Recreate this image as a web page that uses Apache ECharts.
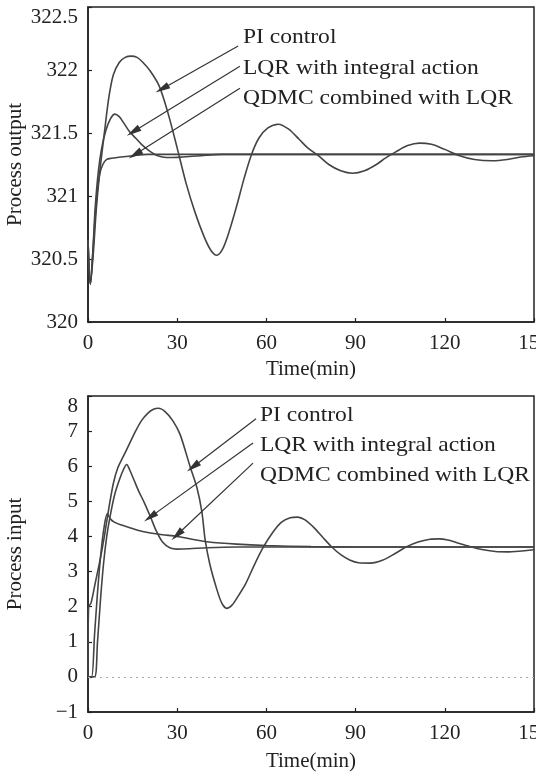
<!DOCTYPE html>
<html>
<head>
<meta charset="utf-8">
<script src="https://cdn.jsdelivr.net/npm/echarts@6/dist/echarts.min.js"></script>
<style>
html,body{margin:0;padding:0;background:#fff;}
#chart{width:536px;height:773px;}
</style>
</head>
<body>
<div id="chart"></div>
<script>
// ---- data ----
const seriesNames = ['PI control', 'LQR with integral action', 'QDMC combined with LQR'];
const timeTicks = [0, 30, 60, 90, 120, 150];
const outputTicks = [320, 320.5, 321, 321.5, 322, 322.5];
const inputTicks = [-1, 0, 1, 2, 3, 4, 5, 6, 7, 8];

const piOutput = [[0,320.65],[0.8,320.3],[1.8,320.55],[2.8,320.9],[4,321.2],[5.5,321.5],[7,321.78],[8.5,321.96],[10.5,322.06],[12.5,322.1],[14.5,322.11],[16.5,322.1],[18.5,322.06],[21,321.99],[24,321.87],[27,321.65],[30,321.38],[33,321.1],[36,320.87],[39,320.68],[41.3,320.57],[43.3,320.53],[45.3,320.58],[47.5,320.72],[50,320.92],[52.5,321.14],[55,321.33],[57.5,321.46],[60.5,321.54],[64,321.57],[67.5,321.53],[71,321.45],[74,321.38],[77.5,321.32],[81,321.25],[85,321.2],[89,321.18],[93,321.2],[97,321.25],[100,321.3],[103.5,321.35],[107.5,321.4],[111.5,321.42],[115.5,321.41],[120,321.37],[125,321.32],[130,321.29],[136,321.28],[141,321.29],[145.5,321.31],[150,321.32]];
const lqrOutput = [[0,320.65],[0.8,320.3],[1.6,320.55],[2.4,320.9],[3.5,321.2],[4.6,321.38],[6,321.52],[7.5,321.61],[9,321.65],[10.5,321.63],[12,321.58],[14,321.51],[16,321.46],[18,321.41],[20,321.37],[22.5,321.33],[25,321.31],[28,321.305],[32,321.31],[38,321.32],[45,321.33],[60,321.33],[80,321.33],[100,321.33],[120,321.33],[150,321.33]];
const qdmcOutput = [[0,320.65],[0.8,320.3],[1.5,320.5],[2.3,320.8],[3.2,321.05],[4,321.18],[5,321.25],[6.3,321.29],[8,321.3],[11,321.31],[15,321.32],[20,321.33],[40,321.33],[80,321.33],[120,321.33],[150,321.33]];

const piInput = [[0,0],[0.2,2.0],[1,2.1],[2.5,2.7],[4,3.3],[5.5,4.0],[7,4.8],[8.5,5.5],[10,5.95],[12,6.3],[14,6.65],[16,7.0],[18,7.3],[20,7.5],[22,7.62],[23.7,7.65],[26,7.55],[28.5,7.3],[31,6.9],[34.3,6.0],[36.6,5.4],[38.3,4.7],[39.4,3.9],[41,3.2],[43.3,2.5],[45,2.1],[46.6,1.95],[48.5,2.05],[50.5,2.3],[53,2.65],[56,3.2],[59,3.7],[62,4.1],[65,4.4],[68,4.53],[70.5,4.55],[73,4.47],[76,4.25],[79,3.97],[82,3.7],[85,3.48],[88,3.33],[91,3.25],[95,3.24],[99,3.32],[103,3.5],[107,3.7],[111,3.84],[115,3.92],[118,3.93],[121,3.9],[125,3.8],[129,3.7],[133,3.62],[137,3.57],[141,3.56],[145,3.58],[150,3.62]];
const lqrInput = [[0,0],[2.2,0],[3.2,1.0],[4.2,2.2],[5.2,3.2],[6.3,4.0],[7.5,4.6],[9,5.2],[10.5,5.6],[12,5.92],[13,6.05],[14,5.9],[15.5,5.6],[17,5.3],[19,4.95],[21,4.56],[23,4.15],[25,3.85],[27.5,3.68],[30,3.64],[34,3.65],[40,3.68],[50,3.7],[70,3.7],[100,3.7],[125,3.7],[150,3.7]];
const qdmcInput = [[0,0],[1.2,0],[2.2,1.2],[3.2,2.4],[4.2,3.4],[5.3,4.2],[6.5,4.65],[7.5,4.5],[9,4.4],[11,4.33],[14,4.25],[17,4.17],[21,4.1],[25,4.05],[30,4.0],[35,3.92],[40,3.85],[50,3.78],[60,3.74],[75,3.71],[90,3.7],[120,3.7],[150,3.7]];

// annotation arrows: [startTime, startValue, tipTime, tipValue]
const outputArrows = [[50.5,322.19,24.9,321.85],[51.1,322.03,15.2,321.51],[51.1,321.855,15.8,321.33]];
const inputArrows = [[56.5,7.35,35.3,5.98],[55.5,6.66,20.9,4.55],[55.5,6.09,29.9,4.04]];

// ---- chart ----
const FONT = 'Liberation Serif';
const INK = '#222';
const LINE = '#444';

function xAxisCfg(gi) {
  return {
    gridIndex: gi, type: 'value', min: timeTicks[0], max: timeTicks[timeTicks.length-1],
    interval: timeTicks[1]-timeTicks[0],
    name: 'Time(min)', nameLocation: 'middle', nameGap: gi === 0 ? 37 : 39,
    nameMoveOverlap: false,
    nameTextStyle: {fontFamily: FONT, fontSize: 21, color: INK},
    axisLine: {show: true, onZero: false, lineStyle: {color: INK, width: 1.5}},
    axisTick: {show: true, inside: true, length: 4, lineStyle: {color: INK, width: 1.2}},
    axisLabel: {fontFamily: FONT, fontSize: 21, color: INK, margin: 11, showMaxLabel: true, hideOverlap: false},
    splitLine: {show: false}
  };
}
function yAxisCfg(gi, ticks, name) {
  const mx = ticks[ticks.length-1];
  return {
    gridIndex: gi, type: 'value', min: ticks[0], max: mx, interval: ticks[1]-ticks[0],
    name: name, nameLocation: 'middle', nameGap: 62, nameMoveOverlap: false,
    nameTextStyle: {fontFamily: FONT, fontSize: 21, color: INK},
    axisLine: {show: true, onZero: false, lineStyle: {color: INK, width: 1.5}},
    axisTick: {show: true, inside: true, length: 4, lineStyle: {color: INK, width: 1.2}},
    axisLabel: {
      fontFamily: FONT, fontSize: 21, color: INK, margin: 10, showMaxLabel: true,
      formatter: function (v) {
        const s = String(v).replace('-', '\u2212');
        return v === mx ? '{t|' + s + '}' : s;
      },
      rich: {t: {fontFamily: FONT, fontSize: 21, color: INK, padding: [20, 0, 0, 0]}}
    },
    splitLine: {show: false}
  };
}
function arrowLines(arr) {
  return arr.map(a => [{coord: [a[0], a[1]]}, {coord: [a[2], a[3]]}]);
}
function lineSeries(name, data, xi, yi, extra) {
  return Object.assign({
    name: name, type: 'line', xAxisIndex: xi, yAxisIndex: yi, data: data,
    showSymbol: false, smooth: 0.3, clip: true,
    lineStyle: {color: LINE, width: 1.6}, animation: false
  }, extra || {});
}
const arrowMark = (arr) => ({
  silent: true, animation: false, symbol: ['none', 'triangle'], symbolSize: [7, 15],
  label: {show: false}, emphasis: {disabled: true},
  lineStyle: {type: 'solid', color: '#333', width: 1.2},
  itemStyle: {color: '#111'},
  data: arrowLines(arr)
});

function legendTexts(x, ys) {
  return seriesNames.map((s, i) => ({
    type: 'text', x: x, y: ys[i], scaleX: 1.12,
    style: {text: s, fontFamily: FONT, fontSize: 21, fill: INK, align: 'left', verticalAlign: 'middle'}
  }));
}

const chart = echarts.init(document.getElementById('chart'), null, {renderer: 'canvas'});
chart.setOption({
  backgroundColor: '#fff',
  animation: false,
  grid: [
    {left: 88, right: 2, top: 7, height: 315, show: true, borderColor: INK, borderWidth: 1.5, containLabel: false, outerBoundsMode: 'none'},
    {left: 88, right: 2, top: 396, height: 316, show: true, borderColor: INK, borderWidth: 1.5, containLabel: false, outerBoundsMode: 'none'}
  ],
  xAxis: [xAxisCfg(0), xAxisCfg(1)],
  yAxis: [yAxisCfg(0, outputTicks, 'Process output'), yAxisCfg(1, inputTicks, 'Process input')],
  graphic: legendTexts(243, [37, 68, 98]).concat(legendTexts(260, [415, 445, 475])),
  series: [
    lineSeries(seriesNames[0], piOutput, 0, 0, {markLine: arrowMark(outputArrows)}),
    lineSeries(seriesNames[1], lqrOutput, 0, 0),
    lineSeries(seriesNames[2], qdmcOutput, 0, 0),
    lineSeries(seriesNames[0], piInput, 1, 1, {markLine: arrowMark(inputArrows), smooth: 0.25}),
    lineSeries(seriesNames[1], lqrInput, 1, 1, {
      markLine: {silent: true, animation: false, symbol: ['none', 'none'], label: {show: false},
        lineStyle: {type: [2, 4], color: '#aaa', width: 1}, data: [{yAxis: 0}]}
    }),
    lineSeries(seriesNames[2], qdmcInput, 1, 1)
  ]
});
</script>
</body>
</html>
